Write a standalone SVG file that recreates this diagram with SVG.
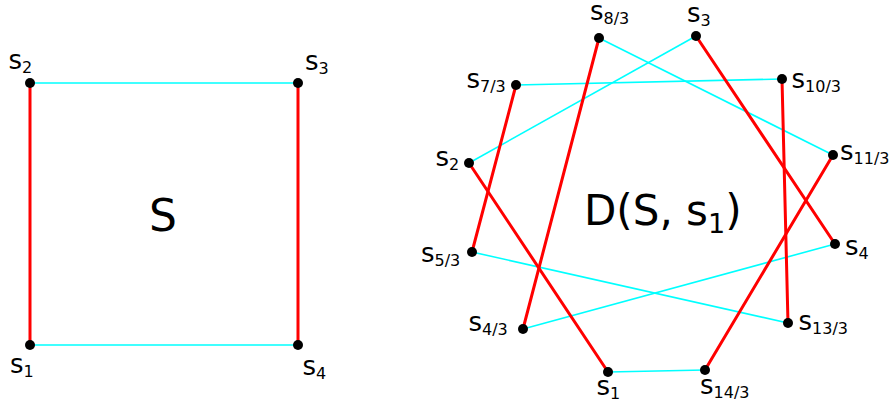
<svg xmlns="http://www.w3.org/2000/svg" width="891" height="404" viewBox="0 0 891 404">
<style>
text{font-family:"DejaVu Sans","Verdana",sans-serif;fill:#000}
.lbl{font-size:26px}
.sub{font-size:16px}
.red{stroke:#ff0000;stroke-width:3;fill:none;stroke-linecap:round}
.cyan{stroke:#00ffff;stroke-width:1.6;fill:none}
.dot{fill:#000}
</style>
<rect width="891" height="404" fill="#fff"/>
<g id="connectors">
<line class="cyan" x1="30" y1="83" x2="298" y2="83"/>
<line class="cyan" x1="30" y1="345" x2="298" y2="345"/>
<line class="red" x1="30" y1="83" x2="30" y2="345"/>
<line class="red" x1="298" y1="83" x2="298" y2="345"/>
<line class="cyan" x1="599" y1="38" x2="833" y2="155"/>
<line class="cyan" x1="696" y1="36" x2="469" y2="163"/>
<line class="cyan" x1="516" y1="85" x2="782" y2="79"/>
<line class="cyan" x1="472" y1="252" x2="788" y2="323"/>
<line class="cyan" x1="523" y1="329" x2="835" y2="244"/>
<line class="cyan" x1="608" y1="372" x2="705" y2="370"/>
<line class="red" x1="516" y1="85" x2="472" y2="252"/>
<line class="red" x1="599" y1="38" x2="523" y2="329"/>
<line class="red" x1="696" y1="36" x2="835" y2="244"/>
<line class="red" x1="469" y1="163" x2="608" y2="372"/>
<line class="red" x1="782" y1="79" x2="788" y2="323"/>
<line class="red" x1="833" y1="155" x2="705" y2="370"/>
</g>
<g id="n-left-s2"><circle class="dot" cx="30" cy="83" r="5"/><text class="lbl" x="8.5" y="69">s<tspan class="sub" dy="4">2</tspan></text></g>
<g id="n-left-s3"><circle class="dot" cx="298" cy="83" r="5"/><text class="lbl" x="305" y="70">s<tspan class="sub" dy="4">3</tspan></text></g>
<g id="n-left-s1"><circle class="dot" cx="30" cy="345" r="5"/><text class="lbl" x="10" y="373">s<tspan class="sub" dy="4">1</tspan></text></g>
<g id="n-left-s4"><circle class="dot" cx="298" cy="345" r="5"/><text class="lbl" x="302.5" y="375">s<tspan class="sub" dy="4">4</tspan></text></g>
<g id="label-S"><text x="163" y="231" font-size="44" text-anchor="middle">S</text></g>
<g id="n-s8_3"><circle class="dot" cx="599" cy="38" r="5"/><text class="lbl" x="590" y="20">s<tspan class="sub" dy="4">8/3</tspan></text></g>
<g id="n-s3"><circle class="dot" cx="696" cy="36" r="5"/><text class="lbl" x="687" y="22">s<tspan class="sub" dy="4">3</tspan></text></g>
<g id="n-s7_3"><circle class="dot" cx="516" cy="85" r="5"/><text class="lbl" x="466.5" y="87.5">s<tspan class="sub" dy="4">7/3</tspan></text></g>
<g id="n-s10_3"><circle class="dot" cx="782" cy="79" r="5"/><text class="lbl" x="791.5" y="87.5">s<tspan class="sub" dy="4">10/3</tspan></text></g>
<g id="n-s2"><circle class="dot" cx="469" cy="163" r="5"/><text class="lbl" x="435.5" y="166">s<tspan class="sub" dy="4">2</tspan></text></g>
<g id="n-s11_3"><circle class="dot" cx="833" cy="155" r="5"/><text class="lbl" x="840" y="160">s<tspan class="sub" dy="4">11/3</tspan></text></g>
<g id="n-s5_3"><circle class="dot" cx="472" cy="252" r="5"/><text class="lbl" x="421" y="262">s<tspan class="sub" dy="4">5/3</tspan></text></g>
<g id="n-s4"><circle class="dot" cx="835" cy="244" r="5"/><text class="lbl" x="845" y="255">s<tspan class="sub" dy="4">4</tspan></text></g>
<g id="n-s4_3"><circle class="dot" cx="523" cy="329" r="5"/><text class="lbl" x="468.5" y="331">s<tspan class="sub" dy="4">4/3</tspan></text></g>
<g id="n-s13_3"><circle class="dot" cx="788" cy="323" r="5"/><text class="lbl" x="798.5" y="330">s<tspan class="sub" dy="4">13/3</tspan></text></g>
<g id="n-s1"><circle class="dot" cx="608" cy="372" r="5"/><text class="lbl" x="596.5" y="395">s<tspan class="sub" dy="4">1</tspan></text></g>
<g id="n-s14_3"><circle class="dot" cx="705" cy="370" r="5"/><text class="lbl" x="700" y="393.5">s<tspan class="sub" dy="4">14/3</tspan></text></g>
<g id="label-D"><text x="584" y="225" font-size="42">D(S, s<tspan font-size="27" dy="8">1</tspan><tspan dy="-8">)</tspan></text></g>
</svg>
